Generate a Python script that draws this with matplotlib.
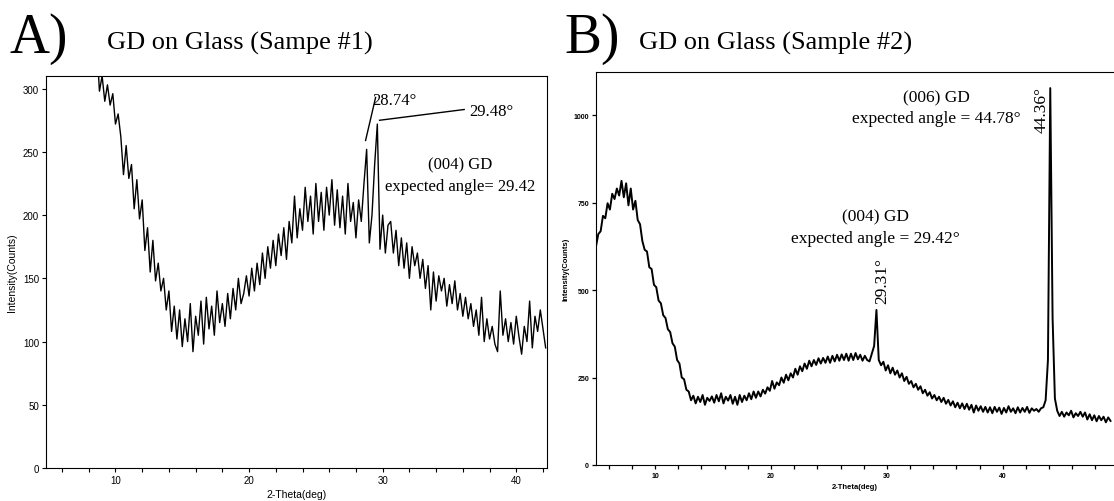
import numpy as np
import matplotlib
matplotlib.use('Agg')
import matplotlib.pyplot as plt
from matplotlib.ticker import MultipleLocator

# Sample #1 scan, 2-theta from 8.6 to 42.2 deg in 0.2 deg steps
counts_a = [
    335, 298, 310, 290, 303, 287, 296, 272, 280, 262,
    232, 255, 229, 240, 205, 228, 197, 212, 172, 190,
    155, 180, 148, 162, 140, 150, 125, 140, 108, 128,
    102, 125, 96, 118, 100, 130, 92, 120, 105, 132,
    98, 135, 110, 128, 105, 140, 115, 130, 112, 138,
    118, 142, 125, 150, 130, 138, 152, 136, 158, 140,
    162, 145, 170, 150, 175, 158, 180, 160, 185, 168,
    190, 165, 195, 178, 215, 182, 205, 188, 222, 195,
    215, 185, 225, 195, 218, 188, 222, 200, 228, 192,
    220, 190, 215, 185, 225, 195, 210, 182, 212, 195,
    225, 252, 178, 200, 240, 272, 173, 200, 170, 192,
    195, 170, 188, 160, 182, 158, 178, 150, 175, 160,
    170, 150, 165, 142, 160, 125, 155, 132, 152, 140,
    150, 128, 145, 130, 148, 125, 138, 120, 135, 118,
    130, 112, 125, 105, 135, 100, 118, 102, 112, 98,
    92, 140, 105, 118, 100, 115, 98, 120, 104, 90,
    112, 100, 132, 95, 120, 108, 125, 110, 95,
]
theta_a = np.round(8.6 + 0.2 * np.arange(len(counts_a)), 2)

# Sample #2 scan, 2-theta from 4.9 to 49.5 deg in 0.2 deg steps
counts_b = [
    625, 660, 668, 712, 705, 748, 730, 775, 760, 790,
    770, 812, 765, 805, 742, 790, 730, 755, 700, 688,
    640, 615, 610, 565, 560, 515, 508, 470, 462, 428,
    420, 388, 380, 348, 338, 300, 290, 250, 245, 215,
    210, 185, 198, 176, 195, 180, 200, 172, 192, 183,
    196, 178, 200, 182, 205, 176, 195, 184, 200, 175,
    195, 172, 200, 180, 198, 185, 205, 188, 210, 192,
    210, 196, 215, 204, 222, 212, 240, 218, 236, 228,
    250, 235, 258, 242, 262, 250, 275, 258, 282, 268,
    290, 275, 298, 282, 300, 286, 305, 290, 306, 292,
    310, 292, 312, 296, 315, 298, 316, 300, 318, 298,
    318, 300, 320, 302, 315, 298, 312, 300, 296, 318,
    340, 443, 300, 285, 295, 270, 285, 262, 278, 258,
    270, 250, 262, 240, 252, 232, 240, 222, 232, 215,
    225, 205, 215, 198, 208, 190, 200, 185, 195, 180,
    192, 175, 186, 170, 182, 165, 178, 162, 176, 160,
    175, 158, 172, 150, 170, 155, 168, 152, 166, 150,
    165, 148, 166, 152, 164, 146, 163, 150, 168, 152,
    162, 148, 165, 150, 163, 152, 166, 149, 162, 155,
    160, 152, 162, 165, 185, 300, 1077, 420, 190, 155,
    140, 152, 138, 150, 142, 155, 136, 148, 140, 152,
    138, 150, 130, 145, 128, 142, 125, 140, 128, 138,
    122, 136, 126,
]
theta_b = np.round(4.9 + 0.2 * np.arange(len(counts_b)), 2)

serif = ['Liberation Serif', 'DejaVu Serif']
sans = ['Liberation Sans', 'DejaVu Sans']

fig = plt.figure(figsize=(11.14, 5.02), dpi=100)

# ---------- panel A ----------
ax1 = fig.add_axes([46 / 1114, 33 / 502, 501 / 1114, 392 / 502])
ax1.plot(theta_a, counts_a, color='black', lw=1.0)
ax1.set_xlim(4.8, 42.3)
ax1.set_ylim(0, 310)
ax1.xaxis.set_major_locator(MultipleLocator(10))
ax1.xaxis.set_minor_locator(MultipleLocator(2))
ax1.yaxis.set_major_locator(MultipleLocator(50))
ax1.tick_params(which='both', direction='out', length=3, width=0.8,
                labelsize=7, pad=2)
for lab in ax1.get_xticklabels() + ax1.get_yticklabels():
    lab.set_family(sans)
ax1.set_xlabel('2-Theta(deg)', family=sans, fontsize=7.5, labelpad=3)
ax1.set_ylabel('Intensity(Counts)', family=sans, fontsize=7.5, labelpad=4)

ax1.plot([28.72, 29.47], [259, 293], color='black', lw=1)
ax1.plot([29.77, 36.1], [275, 283.5], color='black', lw=1)
ax1.text(29.2, 291, '28.74°', family=serif, fontsize=12, ha='left', va='center')
ax1.text(36.5, 282, '29.48°', family=serif, fontsize=12, ha='left', va='center')
ax1.text(35.8, 240, '(004) GD', family=serif, fontsize=12, ha='center', va='center')
ax1.text(35.8, 223, 'expected angle= 29.42', family=serif, fontsize=12,
         ha='center', va='center')

# ---------- panel B ----------
ax2 = fig.add_axes([596 / 1114, 36 / 502, 518 / 1114, 393 / 502])
ax2.plot(theta_b, counts_b, color='black', lw=1.4)
ax2.set_xlim(4.9, 49.6)
ax2.set_ylim(0, 1123)
ax2.spines['right'].set_visible(False)
ax2.xaxis.set_major_locator(MultipleLocator(10))
ax2.xaxis.set_minor_locator(MultipleLocator(2))
ax2.yaxis.set_major_locator(MultipleLocator(250))
ax2.tick_params(which='both', direction='out', length=3, width=0.9,
                labelsize=5, pad=2)
for lab in ax2.get_xticklabels() + ax2.get_yticklabels():
    lab.set_family(sans)
    lab.set_fontweight('bold')
ax2.set_xlabel('2-Theta(deg)', family=sans, fontsize=5.5, fontweight='bold',
               labelpad=3)
ax2.set_ylabel('Intensity(Counts)', family=sans, fontsize=5.5, fontweight='bold',
               labelpad=3)

ax2.text(34.3, 1051, '(006) GD', family=serif, fontsize=12.5, ha='center', va='center')
ax2.text(34.3, 991, 'expected angle = 44.78°', family=serif, fontsize=12.5,
         ha='center', va='center')
ax2.text(43.36, 1017, '44.36°', family=serif, fontsize=12.5, rotation=90,
         ha='center', va='center')
ax2.text(29.0, 711, '(004) GD', family=serif, fontsize=12.5, ha='center', va='center')
ax2.text(29.0, 649, 'expected angle = 29.42°', family=serif, fontsize=12.5,
         ha='center', va='center')
ax2.text(29.57, 529, '29.31°', family=serif, fontsize=12.5, rotation=90,
         ha='center', va='center')

# ---------- panel headers ----------
fig.text(10 / 1114, 1 - 53 / 502, 'A)', family=serif, fontsize=40, va='baseline')
fig.text(107 / 1114, 1 - 50 / 502, 'GD on Glass (Sampe #1)', family=serif,
         fontsize=19, va='baseline')
fig.text(564 / 1114, 1 - 53 / 502, 'B)', family=serif, fontsize=40, va='baseline')
fig.text(639 / 1114, 1 - 50 / 502, 'GD on Glass (Sample #2)', family=serif,
         fontsize=19, va='baseline')

fig.savefig('out.png', dpi=100)
